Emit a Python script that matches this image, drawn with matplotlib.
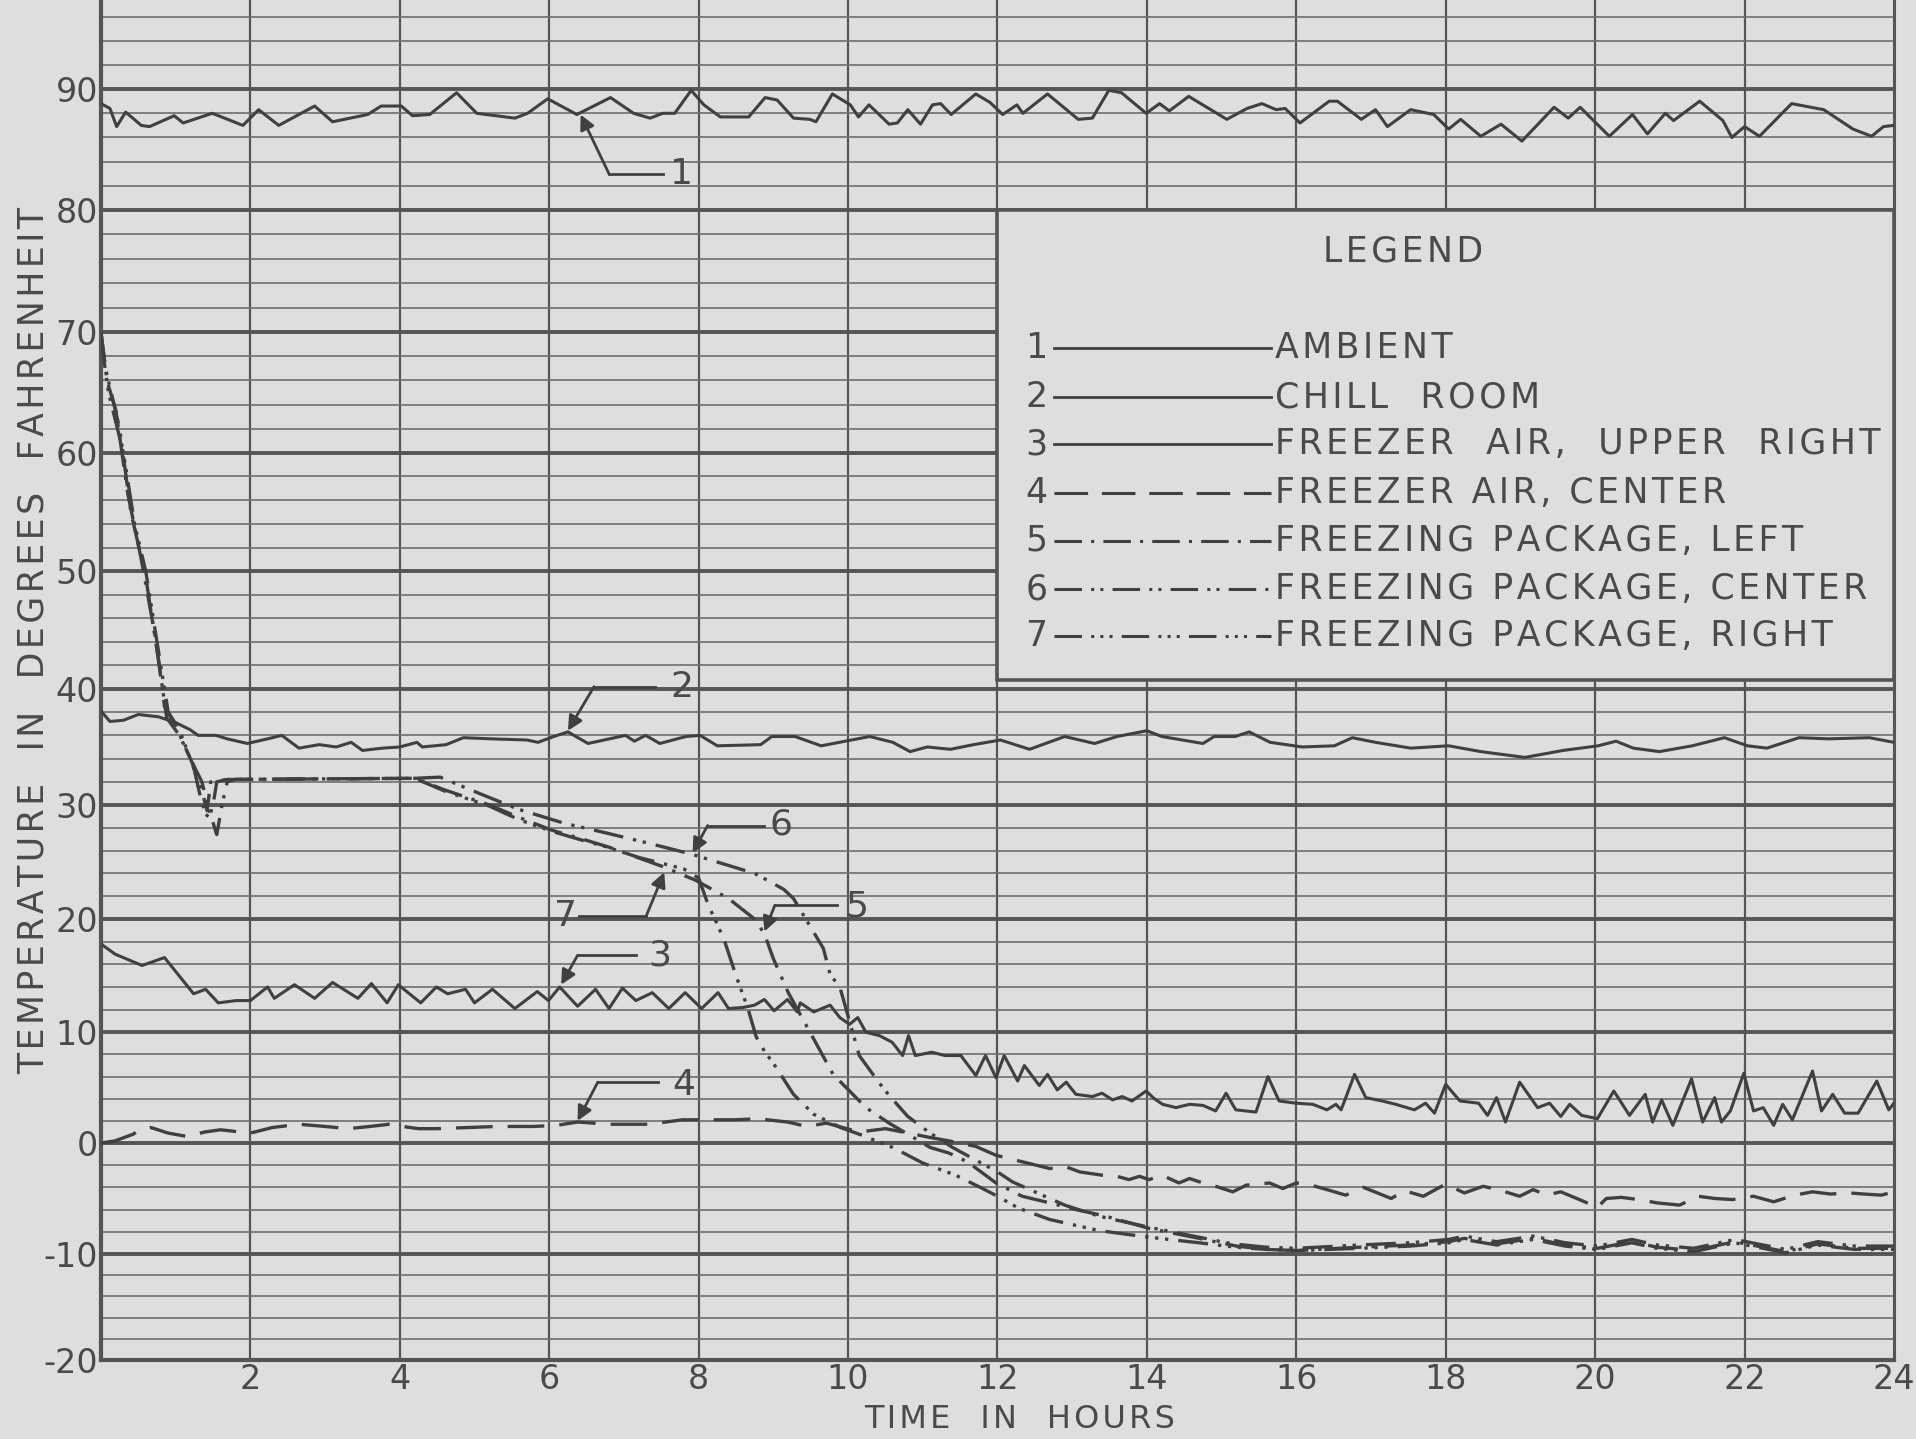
import matplotlib
matplotlib.use("Agg")
import numpy as np
import matplotlib.pyplot as plt
from matplotlib.patches import Rectangle

# --- data (hours, degrees F) ---
t_ambient = [0, 0.12, 0.21, 0.33, 0.54, 0.65, 0.98, 1.1, 1.49, 1.9, 2.11, 2.38, 2.86, 3.1, 3.57, 3.75,
             4.02, 4.17, 4.4, 4.76, 5.03, 5.54, 5.71, 5.98, 6.37, 6.82, 7.13, 7.35, 7.52, 7.68, 7.9,
             8.07, 8.29, 8.67, 8.89, 9.05, 9.27, 9.49, 9.57, 9.79, 10.03, 10.14, 10.28, 10.55, 10.66,
             10.8, 10.97, 11.13, 11.24, 11.38, 11.71, 11.9, 12.07, 12.26, 12.34, 12.67, 13.08, 13.27,
             13.49, 13.66, 13.99, 14.17, 14.3, 14.56, 15.07, 15.34, 15.54, 15.73, 15.85, 16.05, 16.44,
             16.55, 16.87, 17.06, 17.22, 17.53, 17.84, 18.04, 18.2, 18.47, 18.74, 19.02, 19.45, 19.64,
             19.8, 20.19, 20.5, 20.7, 20.94, 21.05, 21.4, 21.71, 21.83, 22.0, 22.2, 22.63, 23.06,
             23.45, 23.7, 23.86, 24.0]
v_ambient = [88.8, 88.4, 86.9, 88.1, 87.0, 86.9, 87.8, 87.2, 88.0, 87.0, 88.3, 87.0, 88.6, 87.3, 87.9, 88.6,
             88.6, 87.8, 87.9, 89.7, 88.0, 87.6, 88.0, 89.2, 87.9, 89.3, 88.0, 87.6, 88.0, 88.0, 89.9,
             88.7, 87.7, 87.7, 89.3, 89.1, 87.6, 87.5, 87.3, 89.6, 88.7, 87.7, 88.7, 87.1, 87.2,
             88.3, 87.1, 88.7, 88.8, 87.9, 89.6, 88.9, 87.9, 88.7, 88.0, 89.6, 87.5, 87.6,
             89.9, 89.7, 88.0, 88.8, 88.2, 89.4, 87.5, 88.4, 88.8, 88.3, 88.4, 87.2, 89.0,
             89.0, 87.5, 88.3, 86.9, 88.3, 87.9, 86.7, 87.5, 86.1, 87.1, 85.7, 88.5, 87.6,
             88.5, 86.1, 87.9, 86.3, 88.0, 87.4, 89.0, 87.4, 86.0, 86.9, 86.1, 88.8, 88.3,
             86.7, 86.1, 86.9, 87.0]

t_chill = [0, 0.12, 0.3, 0.5, 0.77, 1.0, 1.19, 1.3, 1.54, 1.69, 1.96, 2.23, 2.42, 2.65, 2.92, 3.15,
           3.35, 3.5, 3.77, 4.0, 4.23, 4.3, 4.62, 4.85, 5.23, 5.7, 5.85, 6.06, 6.25, 6.52, 7.02, 7.14,
           7.29, 7.48, 7.83, 8.02, 8.25, 8.83, 8.98, 9.29, 9.64, 10.29, 10.6, 10.83, 11.06, 11.37,
           11.68, 12.04, 12.43, 12.9, 13.3, 13.6, 14.0, 14.2, 14.75, 14.9, 15.18, 15.37, 15.65, 16.08,
           16.51, 16.75, 17.06, 17.53, 18.04, 18.47, 19.06, 19.57, 20.04, 20.28, 20.51, 20.86, 21.3,
           21.73, 22.04, 22.3, 22.73, 23.13, 23.67, 24.0]
v_chill = [38.1, 37.2, 37.3, 37.8, 37.6, 37.1, 36.5, 36.0, 36.0, 35.7, 35.3, 35.7, 36.0, 34.9, 35.2, 35.0,
           35.4, 34.7, 34.9, 35.0, 35.4, 35.0, 35.2, 35.8, 35.7, 35.6, 35.4, 35.9, 36.3, 35.3, 36.0, 35.5,
           36.0, 35.3, 35.9, 36.0, 35.1, 35.2, 35.9, 35.9, 35.1, 35.9, 35.4, 34.6, 35.0, 34.8,
           35.2, 35.6, 34.8, 35.9, 35.3, 35.9, 36.4, 35.9, 35.3, 35.9, 35.9, 36.3, 35.4, 35.0,
           35.1, 35.8, 35.4, 34.9, 35.1, 34.6, 34.1, 34.7, 35.1, 35.5, 34.9, 34.6, 35.1,
           35.8, 35.1, 34.9, 35.8, 35.7, 35.8, 35.4]

t_upper = [0, 0.19, 0.55, 0.85, 1.24, 1.4, 1.57, 1.81, 2.0, 2.23, 2.32, 2.59, 2.86, 3.1, 3.44, 3.62,
           3.83, 3.98, 4.28, 4.49, 4.64, 4.88, 5.0, 5.24, 5.54, 5.84, 5.99, 6.14, 6.38, 6.62, 6.8, 6.98,
           7.16, 7.38, 7.6, 7.82, 8.04, 8.26, 8.4, 8.6, 8.75, 8.88, 9.01, 9.19, 9.32, 9.36, 9.54, 9.76,
           9.89, 10.02, 10.13, 10.24, 10.42, 10.59, 10.73, 10.81, 10.9, 11.12, 11.3, 11.51, 11.71,
           11.84, 11.98, 12.09, 12.27, 12.36, 12.56, 12.67, 12.8, 12.92, 13.05, 13.27, 13.4, 13.54,
           13.67, 13.8, 13.99, 14.1, 14.21, 14.39, 14.57, 14.75, 14.92, 15.06, 15.19, 15.46, 15.62,
           15.77, 16.0, 16.22, 16.41, 16.53, 16.6, 16.78, 16.93, 17.15, 17.33, 17.58, 17.73, 17.85,
           18.0, 18.19, 18.44, 18.56, 18.68, 18.8, 18.99, 19.23, 19.39, 19.54, 19.66, 19.82, 20.03,
           20.25, 20.46, 20.67, 20.77, 20.89, 21.04, 21.29, 21.44, 21.6, 21.69, 21.81, 21.99, 22.12,
           22.25, 22.39, 22.51, 22.64, 22.91, 23.03, 23.18, 23.34, 23.52, 23.77, 23.93, 24.0]
v_upper = [17.8, 16.9, 15.9, 16.6, 13.4, 13.8, 12.6, 12.8, 12.8, 14.0, 13.0, 14.2, 13.0, 14.4, 13.0, 14.3,
           12.6, 14.2, 12.6, 14.0, 13.4, 13.8, 12.6, 13.8, 12.1, 13.6, 12.8, 14.0, 12.3, 13.8, 12.1, 13.9,
           12.8, 13.5, 12.1, 13.5, 12.1, 13.5, 12.1, 12.2, 12.4, 12.9, 11.9, 12.9, 11.8, 12.6, 11.8, 12.4,
           11.3, 10.7, 11.3, 10.0, 9.7, 9.1, 7.9, 9.7, 7.9, 8.2, 7.9, 7.9, 6.1,
           7.9, 5.9, 7.9, 5.6, 7.0, 5.2, 6.2, 4.8, 5.5, 4.4, 4.2, 4.5, 3.9,
           4.2, 3.8, 4.7, 4.0, 3.5, 3.2, 3.5, 3.4, 2.9, 4.5, 3.0, 2.8, 6.0,
           3.8, 3.6, 3.5, 3.0, 3.5, 3.0, 6.2, 4.1, 3.8, 3.5, 3.0, 3.6, 2.7,
           5.3, 3.8, 3.6, 2.5, 4.1, 1.9, 5.5, 3.2, 3.6, 2.4, 3.5, 2.5, 2.2,
           4.7, 2.5, 4.4, 1.9, 3.9, 1.6, 5.8, 1.9, 4.1, 1.9, 2.9, 6.3, 2.9,
           3.2, 1.6, 3.5, 2.1, 6.5, 2.9, 4.4, 2.7, 2.7, 5.6, 3.0, 3.6]

t_center = [0, 0.19, 0.43, 0.52, 0.67, 0.9, 1.15, 1.39, 1.6, 2.0, 2.29, 2.65, 3.0, 3.31, 3.6, 3.86,
            4.04, 4.25, 4.49, 4.9, 5.3, 5.78, 6.1, 6.38, 6.8, 7.34, 7.78, 8.0, 8.48, 8.79, 9.19, 9.45,
            9.71, 10.15, 10.5, 10.81, 11.1, 11.35, 11.71, 11.98, 12.16, 12.7, 12.9, 13.1, 13.4, 13.6,
            13.76, 13.9, 14.03, 14.2, 14.43, 14.57, 14.75, 14.92, 15.15, 15.33, 15.5, 15.64, 15.82,
            16.0, 16.2, 16.41, 16.66, 16.9, 17.27, 17.45, 17.7, 18.0, 18.25, 18.5, 18.7, 18.99, 19.17,
            19.35, 19.54, 19.79, 20.03, 20.15, 20.35, 20.58, 20.83, 21.13, 21.38, 21.6, 21.84, 22.12,
            22.39, 22.67, 22.91, 23.15, 23.4, 23.6, 23.83, 24.0]
v_center = [0.0, 0.2, 0.8, 1.2, 1.4, 0.9, 0.6, 1.0, 1.2, 0.9, 1.4, 1.7, 1.5, 1.3, 1.5, 1.7,
            1.5, 1.3, 1.3, 1.4, 1.5, 1.5, 1.6, 1.9, 1.7, 1.7, 2.1, 2.1, 2.1, 2.2, 1.9, 1.5,
            1.8, 1.0, 1.3, 0.9, 0.5, 0.2, -0.3, -1.1, -1.4, -2.3, -2.1, -2.6, -2.9, -3.0,
            -3.3, -3.0, -3.3, -2.9, -3.6, -3.2, -3.6, -3.9, -4.4, -3.8, -3.7, -3.6, -4.1,
            -3.6, -3.8, -4.2, -4.7, -4.0, -5.0, -4.3, -4.8, -3.7, -4.5, -3.9, -4.2, -4.8, -4.2,
            -4.7, -4.4, -5.1, -5.8, -5.0, -4.9, -5.1, -5.4, -5.6, -4.8, -5.0, -5.1, -4.8,
            -5.3, -4.7, -4.4, -4.6, -4.5, -4.6, -4.7, -4.4]

t_pkg_left = [0, 0.08, 0.2, 0.36, 0.54, 0.74, 0.85, 1.0, 1.21, 1.3, 1.38, 1.42, 1.47, 1.7, 4.2, 4.6,
              5.2, 5.6, 6.03, 6.5, 6.8, 7.52, 7.96, 8.4, 8.75, 8.88, 9.0, 9.2, 9.54, 9.8, 10.24, 10.55,
              11.1, 11.35, 11.6, 11.98, 12.33, 12.7, 13.05, 13.45, 14.03, 14.7, 15.2, 15.6, 16.0, 16.84,
              17.52, 18.04, 18.25, 18.68, 19.17, 19.6, 20.03, 20.49, 20.83, 21.32, 21.87, 22.55, 22.98,
              23.47, 24.0]
v_pkg_left = [70.0, 66.0, 63.5, 56.5, 51.0, 44.0, 38.5, 36.8, 33.8, 32.2, 30.5, 29.5, 32.0, 32.2, 32.3, 31.3,
              30.0, 28.9, 27.8, 26.9, 26.3, 24.6, 23.4, 21.8, 20.0, 18.7, 16.5, 13.5, 9.4, 6.2, 3.2, 1.8,
              -0.4, -0.9, -1.7, -3.6, -4.8, -5.4, -6.0, -6.6, -7.7, -8.6, -9.3, -9.6, -9.7, -9.4,
              -9.2, -8.9, -8.6, -9.1, -8.6, -9.2, -9.5, -8.9, -9.4, -9.7, -8.9, -9.8, -9.1,
              -9.5, -9.5]

t_pkg_center = [0, 0.06, 0.25, 0.4, 0.6, 0.78, 0.88, 1.05, 1.25, 1.35, 1.45, 1.55, 1.62, 1.69, 1.8, 4.2,
                4.54, 5.1, 5.6, 6.2, 6.73, 7.3, 7.9, 8.75, 8.92, 9.14, 9.27, 9.67, 9.76, 9.89, 10.15,
                10.42, 10.55, 10.8, 11.1, 11.4, 11.7, 12.0, 12.2, 12.7, 12.9, 13.36, 14.03, 14.7, 15.15,
                15.6, 16.0, 16.84, 17.52, 18.04, 18.25, 18.68, 19.17, 19.6, 20.03, 20.49, 20.83, 21.32,
                21.87, 22.55, 22.98, 23.47, 24.0]
v_pkg_center = [70.0, 67.0, 62.0, 55.0, 49.5, 42.0, 37.5, 36.0, 33.3, 32.0, 29.5, 27.4, 30.0, 32.0, 32.2, 32.3,
                32.4, 30.9, 29.6, 28.4, 27.6, 26.7, 25.7, 24.0, 23.4, 22.6, 21.8, 17.4, 15.1, 14.0, 7.9,
                5.4, 4.3, 2.4, 0.9, -0.4, -1.5, -2.6, -3.5, -5.0, -5.6, -6.6, -7.6, -8.5, -9.1,
                -9.4, -9.5, -9.2, -9.0, -8.7, -8.4, -8.9, -8.4, -9.0, -9.3, -8.7, -9.2, -9.5,
                -8.7, -9.6, -8.9, -9.3, -9.3]

t_pkg_right = [0, 0.1, 0.3, 0.45, 0.6, 0.8, 0.9, 1.05, 1.25, 1.32, 1.4, 1.45, 1.5, 1.55, 1.7, 4.2,
               4.6, 5.2, 5.6, 6.03, 6.5, 6.73, 7.2, 7.8, 8.0, 8.13, 8.26, 8.35, 8.5, 8.66, 8.77, 8.88,
               9.0, 9.27, 9.54, 9.9, 10.15, 10.6, 11.0, 11.44, 11.8, 12.0, 12.29, 12.7, 13.36, 14.03,
               14.7, 15.19, 15.6, 16.0, 16.84, 17.52, 18.04, 18.25, 18.68, 19.17, 19.6, 20.03, 20.49,
               20.83, 21.32, 21.87, 22.55, 22.98, 23.47, 24.0]
v_pkg_right = [69.5, 65.0, 60.0, 54.0, 50.0, 42.0, 38.0, 36.5, 33.0, 31.0, 29.2, 28.9, 30.0, 32.0, 32.2, 32.3,
               31.2, 29.9, 28.7, 27.7, 26.8, 26.4, 25.4, 24.4, 23.6, 21.2, 19.4, 18.0, 15.0, 12.1, 9.6, 8.3,
               7.2, 4.4, 2.6, 1.4, 0.8, -0.4, -1.8, -2.9, -4.1, -4.8, -5.9, -6.9, -7.9, -8.5,
               -9.0, -9.4, -9.6, -9.7, -9.5, -9.3, -9.0, -8.7, -9.2, -8.7, -9.3, -9.6, -9.0,
               -9.5, -9.8, -9.0, -9.9, -9.2, -9.6, -9.6]

legend_labels = ["AMBIENT", "CHILL  ROOM", "FREEZER  AIR,  UPPER  RIGHT", "FREEZER AIR, CENTER",
                 "FREEZING PACKAGE, LEFT", "FREEZING PACKAGE, CENTER", "FREEZING PACKAGE, RIGHT"]
x_ticks = [2, 4, 6, 8, 10, 12, 14, 16, 18, 20, 22, 24]
y_ticks = [-20, -10, 0, 10, 20, 30, 40, 50, 60, 70, 80, 90]

# callouts: label, text position, elbow start, elbow, arrow tip
callouts = [
    ("1", (7.77, 83.0), (7.52, 83.0), (6.80, 83.0), (6.42, 87.9)),
    ("2", (7.78, 40.2), (7.42, 40.2), (6.60, 40.2), (6.25, 36.4)),
    ("3", (7.48, 16.8), (7.16, 16.8), (6.38, 16.8), (6.16, 14.2)),
    ("4", (7.80, 5.2), (7.46, 5.5), (6.65, 5.5), (6.38, 2.0)),
    ("5", (10.12, 21.1), (9.85, 21.2), (9.02, 21.2), (8.88, 18.9)),
    ("6", (9.10, 28.3), (8.88, 28.2), (8.12, 28.2), (7.92, 25.8)),
    ("7", (6.22, 20.3), (6.40, 20.3), (7.30, 20.3), (7.54, 24.1)),
]

# the scanned sheet is slightly stretched toward the top: piecewise scale for the y axis
scale_vals = [-30, -20, -10, 0, 10, 20, 30, 40, 50, 60, 70, 80, 90, 100]
scale_pos = [1200.4, 1113.5, 1026.6, 935.9, 845.2, 752.5, 659.1, 564.1, 467.9, 370.7, 272.0, 172.0, 73.0, -26.0]
neg_pos = [-p for p in scale_pos]


def fwd(v):
    return np.interp(v, scale_vals, neg_pos)


def inv(y):
    return np.interp(y, neg_pos, scale_vals)


def spaced(s):
    return "\u200a".join(s)


BG = "#dedede"
GRID = "#555555"
INK = "#404040"
TXT = "#4a4a4a"

plt.rcParams["font.family"] = "DejaVu Sans"

fig = plt.figure(figsize=(19.16, 14.39), dpi=100)
fig.patch.set_facecolor(BG)
ax = fig.add_axes([0.0527, 0.0549, 0.9358, 0.9451])
ax.set_facecolor(BG)
ax.set_yscale("function", functions=(fwd, inv))
ax.set_xlim(0, 24)
ax.set_ylim(-20, 97.37)

# graph paper
for h in range(2, 24, 2):
    ax.axvline(h, color=GRID, lw=1.6, zorder=1)
for d in range(-18, 98, 2):
    if d % 10 == 0:
        ax.axhline(d, color=GRID, lw=2.8, zorder=1)
    else:
        ax.axhline(d, color="#6e6e6e", lw=1.2, zorder=1)

# legend panel (blank patch on the paper)
ax.add_patch(Rectangle((12, 40.8), 12, 39.2, facecolor=BG, edgecolor=GRID, lw=2.6, zorder=2))

styles = [
    (t_ambient, v_ambient, None),
    (t_chill, v_chill, None),
    (t_upper, v_upper, None),
    (t_center, v_center, [11, 4.5]),
    (t_pkg_left, v_pkg_left, [9, 3, 1, 3]),
    (t_pkg_center, v_pkg_center, [9, 3, 1, 2, 1, 3]),
    (t_pkg_right, v_pkg_right, [9, 3, 1, 2, 1, 2, 1, 3]),
]
for t, v, dash in styles:
    if dash is None:
        ax.plot(t, v, color=INK, lw=2.2, zorder=4, solid_joinstyle="round")
    else:
        ax.plot(t, v, color=INK, lw=2.4, dashes=dash, zorder=4)

# legend text
ax.text(17.43, 76.6, spaced("LEGEND"), ha="center", va="center", fontsize=25, color=TXT, zorder=5)
legend_y = [68.7, 64.6, 60.7, 56.6, 52.6, 48.5, 44.5]
for i, (lab, y) in enumerate(zip(legend_labels, legend_y)):
    dash = styles[i][2]
    ax.text(12.52, y, str(i + 1), ha="center", va="center", fontsize=25, color=TXT, zorder=5)
    if dash is None:
        ax.plot([12.75, 15.66], [y, y], color=INK, lw=2.0, zorder=5)
    else:
        ax.plot([12.75, 15.66], [y, y], color=INK, lw=2.2, dashes=dash, zorder=5)
    ax.text(15.72, y, spaced(lab), ha="left", va="center", fontsize=25, color=TXT, zorder=5)

# numbered callouts
for lab, tpos, start, elbow, tip in callouts:
    ax.plot([start[0], elbow[0]], [start[1], elbow[1]], color=INK, lw=2.0, zorder=5)
    ax.annotate("", xy=tip, xytext=elbow,
                arrowprops=dict(arrowstyle="-|>", color=INK, lw=2.0, mutation_scale=22,
                                shrinkA=0, shrinkB=0), zorder=5)
    ax.text(tpos[0], tpos[1], lab, ha="center", va="center", fontsize=26, color=TXT, zorder=5)

# axes frame and ticks
for side in ["left", "bottom"]:
    ax.spines[side].set_linewidth(3)
    ax.spines[side].set_color(GRID)
ax.spines["right"].set_linewidth(2.2)
ax.spines["right"].set_color(GRID)
ax.spines["top"].set_visible(False)

ax.set_xticks(x_ticks)
ax.set_xticklabels([str(x) for x in x_ticks])
ax.set_yticks(y_ticks)
ax.set_yticklabels([str(y) for y in y_ticks])
ax.minorticks_off()
ax.tick_params(axis="both", length=0, labelsize=24, labelcolor=TXT)
ax.tick_params(axis="x", pad=2)
ax.tick_params(axis="y", pad=2)

fig.text(0.532, 0.0135, spaced("TIME  IN  HOURS"), ha="center", va="center", fontsize=23, color=TXT)
fig.text(0.0175, 0.555, spaced("TEMPERATURE  IN  DEGREES  FAHRENHEIT"), rotation=90,
         ha="center", va="center", fontsize=25, color=TXT)

fig.savefig("out.png", dpi=100, facecolor=BG)
